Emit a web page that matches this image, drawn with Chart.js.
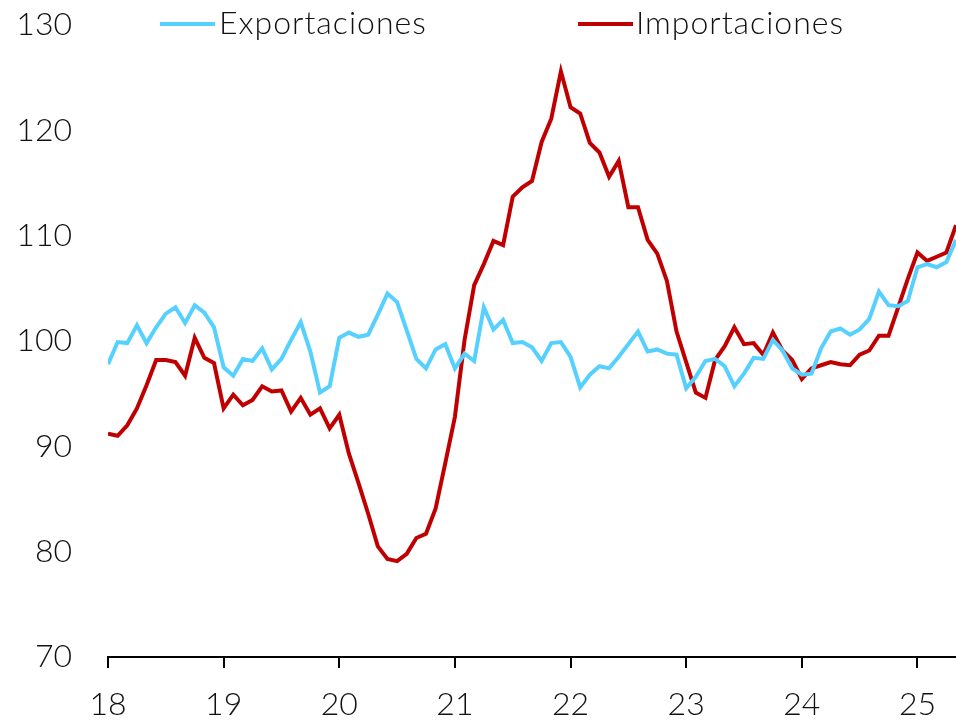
<!DOCTYPE html>
<html>
<head>
<meta charset="utf-8">
<script src="https://cdn.jsdelivr.net/npm/chart.js@4/dist/chart.umd.min.js"></script>
<style>
  html, body { margin: 0; padding: 0; background: #fff; }
  #wrap { width: 956px; height: 721px; position: relative; }
</style>
</head>
<body>
<div id="wrap"><canvas id="trade-chart"></canvas></div>
<script>
// monthly index, Jan 2018 .. May 2025
const yearTicks = ['18', '19', '20', '21', '22', '23', '24', '25'];

const exportaciones = [
    97.8, 99.9, 99.8, 101.5, 99.8, 101.3, 102.6, 103.2, 101.7, 103.4, 102.7, 101.3,
    97.5, 96.7, 98.3, 98.1, 99.3, 97.3, 98.3, 100.1, 101.8, 99.0, 95.1, 95.7,
    100.3, 100.8, 100.4, 100.6, 102.5, 104.5, 103.7, 101.0, 98.3, 97.4, 99.2, 99.7,
    97.4, 98.8, 98.1, 103.2, 101.1, 102.0, 99.8, 99.9, 99.4, 98.1, 99.8, 99.9,
    98.5, 95.6, 96.8, 97.6, 97.4, 98.5, 99.7, 100.9, 99.0, 99.2, 98.8, 98.7,
    95.5, 96.6, 98.1, 98.3, 97.6, 95.7, 96.9, 98.4, 98.3, 100.1, 99.1, 97.4,
    96.8, 96.9, 99.3, 100.9, 101.2, 100.6, 101.1, 102.1, 104.7, 103.4, 103.3, 103.8,
    107.0, 107.3, 107.0, 107.5, 109.6
];

const importaciones = [
    91.2, 91.0, 92.0, 93.6, 95.8, 98.2, 98.2, 98.0, 96.7, 100.3, 98.4, 97.9,
    93.6, 94.9, 93.9, 94.4, 95.7, 95.2, 95.3, 93.3, 94.6, 93.0, 93.6, 91.7,
    93.0, 89.3, 86.5, 83.6, 80.5, 79.3, 79.1, 79.8, 81.3, 81.7, 84.1, 88.4,
    92.8, 100.1, 105.3, 107.3, 109.5, 109.1, 113.7, 114.6, 115.2, 118.9, 121.1, 125.6,
    122.2, 121.6, 118.8, 117.9, 115.6, 117.1, 112.7, 112.7, 109.6, 108.3, 105.7, 100.9,
    98.0, 95.1, 94.6, 98.2, 99.5, 101.3, 99.7, 99.8, 98.7, 100.8, 99.1, 98.2,
    96.4, 97.4, 97.7, 98.0, 97.8, 97.7, 98.7, 99.1, 100.5, 100.5, 103.2, 105.9,
    108.4, 107.6, 108.0, 108.4, 111.0
];

const FONT = 'Lato, "Open Sans", sans-serif';
const FONT_SIZE = 32;

// legend sits inside the plot, drawn by hand
const inlineLegend = {
    id: 'inlineLegend',
    afterDraw(chart) {
        const ctx = chart.ctx;
        const spots = [{ x: 160, tx: 219 }, { x: 578, tx: 636 }];
        ctx.save();
        chart.data.datasets.forEach(function(ds, i) {
            const s = spots[i];
            ctx.strokeStyle = ds.borderColor;
            ctx.lineWidth = 4;
            ctx.beginPath();
            ctx.moveTo(s.x, 24);
            ctx.lineTo(s.x + 55, 24);
            ctx.stroke();
            ctx.fillStyle = '#111';
            ctx.font = '300 ' + FONT_SIZE + 'px ' + FONT;
            ctx.letterSpacing = '1px';
            ctx.textBaseline = 'middle';
            ctx.fillText(ds.label, s.tx, 24);
        });
        ctx.restore();
    }
};

const ctx = document.getElementById('trade-chart').getContext('2d');
new Chart(ctx, {
    type: 'line',
    data: {
        datasets: [{
            label: 'Exportaciones',
            data: exportaciones.map(function(v, i) { return { x: i, y: v }; }),
            borderColor: '#55D0FF',
            borderWidth: 4,
            pointRadius: 0,
            tension: 0
        }, {
            label: 'Importaciones',
            data: importaciones.map(function(v, i) { return { x: i, y: v }; }),
            borderColor: '#C00000',
            borderWidth: 4,
            pointRadius: 0,
            tension: 0
        }]
    },
    options: {
        responsive: true,
        maintainAspectRatio: false,
        animation: false,
        layout: { padding: { top: 25, right: 0, bottom: 0, left: 0 } },
        scales: {
            x: {
                type: 'linear',
                min: 0,
                max: 88,
                grid: {
                    drawOnChartArea: false,
                    drawTicks: true,
                    tickLength: 11,
                    color: '#000',
                    lineWidth: 2
                },
                border: { display: true, color: '#000', width: 2 },
                afterBuildTicks: function(scale) {
                    scale.ticks = yearTicks.map(function(t, i) { return { value: i * 12 }; });
                },
                afterFit: function(scale) {
                    scale.height = 64;
                    scale.paddingLeft = 0;
                    scale.paddingRight = 0;
                },
                ticks: {
                    autoSkip: false,
                    maxRotation: 0,
                    padding: 17,
                    color: '#111',
                    font: { family: FONT, size: FONT_SIZE, weight: '300' },
                    callback: function(value) { return yearTicks[Math.round(value / 12)]; }
                }
            },
            y: {
                min: 70,
                max: 130,
                grid: { display: false, drawTicks: false },
                border: { display: false },
                afterFit: function(scale) {
                    scale.width = 108;
                    scale.paddingTop = 0;
                    scale.paddingBottom = 0;
                },
                ticks: {
                    stepSize: 10,
                    padding: 36,
                    color: '#111',
                    font: { family: FONT, size: FONT_SIZE, weight: '300' }
                }
            }
        },
        plugins: {
            legend: { display: false },
            tooltip: { enabled: false }
        }
    },
    plugins: [inlineLegend]
});
</script>
</body>
</html>
